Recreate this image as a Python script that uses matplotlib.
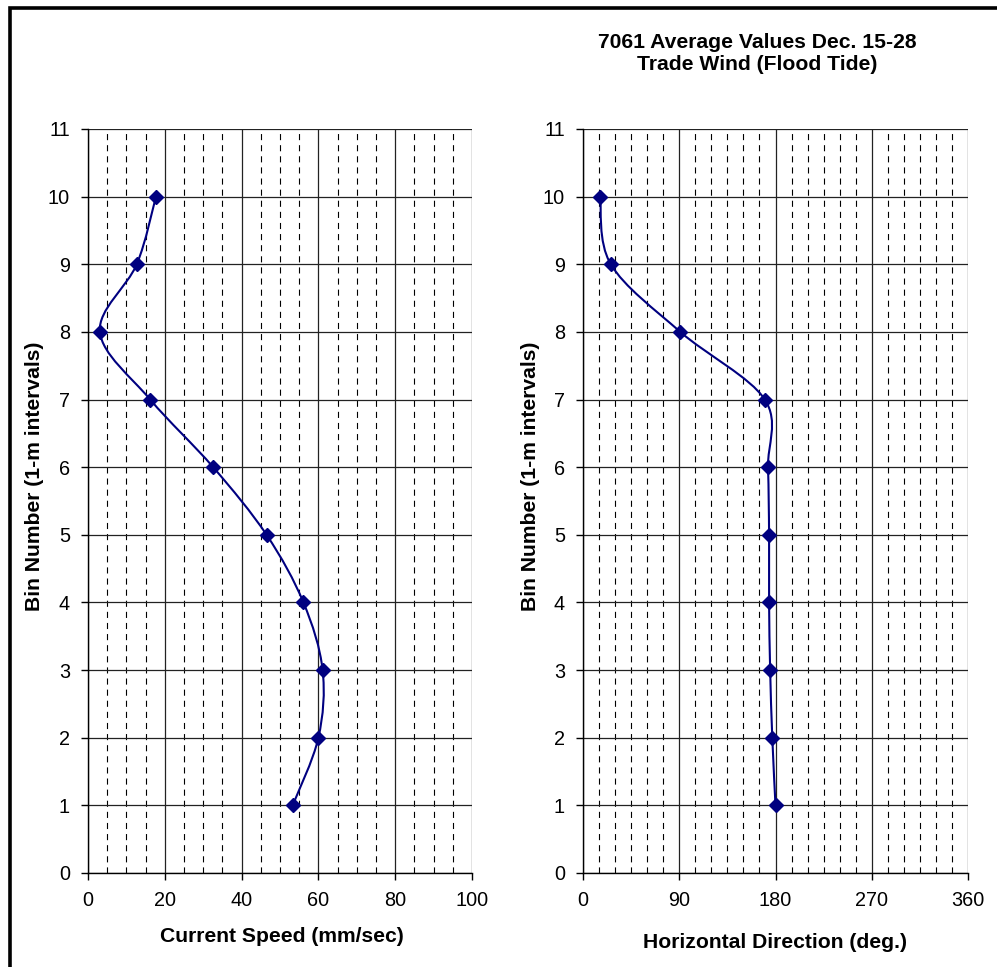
import numpy as np
import matplotlib
matplotlib.use("Agg")
import matplotlib.pyplot as plt
from matplotlib.path import Path
from matplotlib.patches import PathPatch, Rectangle
from matplotlib.ticker import MultipleLocator

plt.rcParams['font.family'] = ['Liberation Sans', 'DejaVu Sans']

# Bin numbers (1-m intervals)
bins = [1, 2, 3, 4, 5, 6, 7, 8, 9, 10]
# Average current speed per bin (mm/sec)
speed = [53.3, 60.0, 61.1, 56.1, 46.5, 32.6, 16.2, 3.1, 12.7, 17.7]
# Average horizontal direction per bin (degrees)
direction = [180, 177, 175, 174, 174, 173, 170, 91, 26, 16]

title_lines = "7061 Average Values Dec. 15-28\nTrade Wind (Flood Tide)"
ylabel = "Bin Number (1-m intervals)"

W, H = 997, 967
fig = plt.figure(figsize=(W / 100, H / 100), dpi=100)

LINE = "#000080"
LABEL_SIZE = 15.2
TICK_SIZE = 14.3


def smooth_path(xs, ys):
    """Cubic Bezier path through the points (Catmull-Rom style smoothing)."""
    pts = np.column_stack([xs, ys]).astype(float)
    n = len(pts)
    verts = [pts[0]]
    codes = [Path.MOVETO]
    for i in range(n - 1):
        p0 = pts[i - 1] if i > 0 else pts[i]
        p1 = pts[i]
        p2 = pts[i + 1]
        p3 = pts[i + 2] if i + 2 < n else pts[i + 1]
        c1 = p1 + (p2 - p0) / 6.0
        c2 = p2 - (p3 - p1) / 6.0
        verts += [c1, c2, p2]
        codes += [Path.CURVE4] * 3
    return Path(verts, codes)


def make_axes(left_px, right_px, xmax, major, minor):
    top_px, bottom_px = 129, 873
    ax = fig.add_axes([left_px / W, 1 - bottom_px / H,
                       (right_px - left_px) / W, (bottom_px - top_px) / H])
    ax.set_xlim(0, xmax)
    ax.set_ylim(0, 11)
    ax.xaxis.set_major_locator(MultipleLocator(major))
    ax.xaxis.set_minor_locator(MultipleLocator(minor))
    ax.yaxis.set_major_locator(MultipleLocator(1))
    ax.grid(which='major', axis='both', color='#222222', linewidth=0.9)
    ax.grid(which='minor', axis='x', color='black', linewidth=0.8,
            linestyle=(0, (5.5, 4.5)))
    ax.set_axisbelow(True)
    for s in ax.spines.values():
        s.set_visible(False)
    ax.spines['left'].set_visible(True)
    ax.spines['bottom'].set_visible(True)
    ax.spines['left'].set_linewidth(1.0)
    ax.spines['bottom'].set_linewidth(1.0)
    ax.tick_params(which='major', direction='out', length=5, width=1,
                   labelsize=TICK_SIZE, pad=8, color='black')
    ax.tick_params(which='minor', length=0)
    return ax


def draw_profile(ax, xs, ys):
    ax.add_patch(PathPatch(smooth_path(xs, ys), facecolor='none',
                           edgecolor=LINE, linewidth=1.5, zorder=3))
    ax.plot(xs, ys, linestyle='none', marker='D', markersize=7,
            color=LINE, zorder=4)


ax1 = make_axes(88, 472, 100, 20, 5)
draw_profile(ax1, speed, bins)

ax2 = make_axes(583, 968, 360, 90, 15)
draw_profile(ax2, direction, bins)

# axis titles
fig.text(282 / W, 1 - 937 / H, "Current Speed (mm/sec)", ha='center',
         va='center', fontsize=LABEL_SIZE, fontweight='bold')
fig.text(775 / W, 1 - 942 / H, "Horizontal Direction (deg.)", ha='center',
         va='center', fontsize=LABEL_SIZE, fontweight='bold')
fig.text(35 / W, 1 - 476 / H, ylabel, rotation=90, ha='center',
         va='center', fontsize=LABEL_SIZE, fontweight='bold')
fig.text(530 / W, 1 - 476 / H, ylabel, rotation=90, ha='center',
         va='center', fontsize=LABEL_SIZE, fontweight='bold')

fig.text(757 / W, 1 - 54 / H, title_lines, ha='center', va='center',
         fontsize=LABEL_SIZE, fontweight='bold', linespacing=1.2)

# outer chart border
fig.patches.append(Rectangle((9.5 / W, -0.05), 1.2, 1 - 7.5 / H + 0.05,
                             transform=fig.transFigure, fill=False,
                             edgecolor='black', linewidth=2.6))

fig.savefig("out.png", dpi=100, facecolor='white')
